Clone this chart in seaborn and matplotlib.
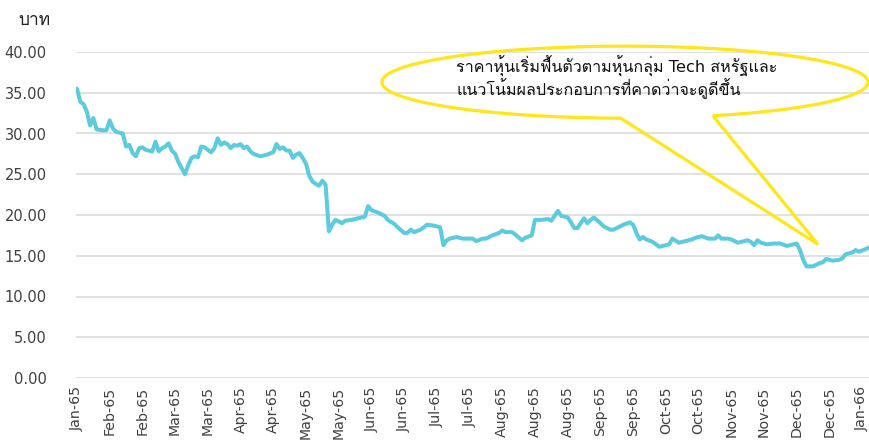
import numpy as np
import matplotlib
matplotlib.use("Agg")
import matplotlib.pyplot as plt
from matplotlib import font_manager
from matplotlib.path import Path
from matplotlib.patches import PathPatch
import seaborn as sns
from fontTools.ttLib import TTFont

# trading day index (0 = first trading day of Jan-65) and closing price in baht
trade_day = [
    0, 1, 2, 3, 4, 5, 6, 8, 9, 10, 11, 12, 14, 15, 16, 17, 18, 19, 20, 21,
    23, 24, 25, 26, 27, 28, 29, 30, 31, 33, 34, 35, 36, 37, 38, 39, 40, 41,
    42, 43, 44, 45, 46, 47, 48, 49, 50, 51, 52, 53, 54, 56, 58, 60, 61, 62,
    63, 64, 65, 66, 67, 68, 69, 70, 71, 72, 73, 74, 75, 76, 77, 78, 79, 81,
    82, 84, 86, 87, 88, 89, 90, 92, 93, 94, 95, 97, 98, 100, 101, 102, 103,
    105, 107, 109, 110, 111, 112, 113, 114, 116, 118, 120, 121, 122, 124,
    125, 127, 129, 130, 131, 133, 134, 136, 137, 139, 140, 142, 144, 145,
    147, 148, 150, 151, 152, 153, 154, 155, 156, 157, 158, 160, 161, 163,
    164, 166, 167, 169, 170, 171, 172, 173, 174, 176, 178, 179, 181, 182,
    184, 186, 188, 189, 191, 193, 195, 196, 197, 199, 200, 202, 203, 205,
    206, 207, 208, 209, 211, 213, 215, 217, 218, 220, 221, 222, 223, 225,
    226, 227, 228, 229, 231, 233, 234, 235, 237, 238, 239, 241, 242,
]
price = [
    35.5, 33.9, 33.6, 32.7, 31.0, 31.9, 30.5, 30.4, 30.4, 31.6, 30.6, 30.2,
    30.0, 28.4, 28.6, 27.6, 27.2, 28.2, 28.3, 28.0, 27.8, 29.0, 27.8, 28.2,
    28.4, 28.8, 27.9, 27.5, 26.5, 25.0, 26.1, 27.0, 27.2, 27.1, 28.4, 28.3,
    28.0, 27.7, 28.2, 29.4, 28.6, 28.9, 28.7, 28.2, 28.6, 28.5, 28.7, 28.2,
    28.4, 27.8, 27.5, 27.2, 27.4, 27.7, 28.7, 28.1, 28.3, 27.9, 27.9, 27.0,
    27.4, 27.6, 27.0, 26.3, 24.8, 24.1, 23.8, 23.6, 24.2, 23.7, 18.0, 18.8,
    19.4, 19.0, 19.3, 19.4, 19.6, 19.7, 19.8, 21.1, 20.6, 20.3, 20.1, 19.9,
    19.4, 18.9, 18.5, 17.8, 17.8, 18.2, 17.9, 18.2, 18.8, 18.7, 18.6, 18.5,
    16.3, 16.9, 17.1, 17.3, 17.1, 17.1, 17.1, 16.8, 17.1, 17.1, 17.5, 17.8,
    18.1, 17.9, 17.9, 17.6, 16.9, 17.2, 17.5, 19.4, 19.4, 19.5, 19.3, 20.5,
    19.9, 19.7, 19.1, 18.4, 18.4, 19.0, 19.6, 19.0, 19.4, 19.7, 19.0, 18.6,
    18.2, 18.2, 18.6, 18.8, 19.1, 18.8, 17.8, 17.0, 17.3, 17.0, 16.7, 16.1,
    16.2, 16.4, 17.1, 16.6, 16.8, 17.0, 17.2, 17.4, 17.1, 17.1, 17.5, 17.1,
    17.1, 17.0, 16.6, 16.7, 16.9, 16.7, 16.3, 16.9, 16.6, 16.4, 16.5, 16.5,
    16.2, 16.3, 16.5, 15.7, 14.5, 13.7, 13.7, 13.9, 14.1, 14.2, 14.6, 14.4,
    14.5, 14.7, 15.2, 15.4, 15.7, 15.5, 15.8, 16.0,
]

tick_labels = [
    "Jan-65", "Feb-65", "Feb-65", "Mar-65", "Mar-65", "Apr-65", "Apr-65",
    "May-65", "May-65", "Jun-65", "Jun-65", "Jul-65", "Jul-65", "Aug-65",
    "Aug-65", "Aug-65", "Sep-65", "Sep-65", "Oct-65", "Oct-65", "Nov-65",
    "Nov-65", "Dec-65", "Dec-65", "Jan-66",
]
y_ticks = [0, 5, 10, 15, 20, 25, 30, 35, 40]

note_lines = ["ราคาหุ้นเริ่มฟื้นตัวตามหุ้นกลุ่ม Tech สหรัฐและ",
              "แนวโน้มผลประกอบการที่คาดว่าจะดูดีขึ้น"]


def thai_font():
    # first installed family that actually has Thai glyphs
    for f in font_manager.fontManager.ttflist:
        try:
            cmap = TTFont(f.fname, fontNumber=0, lazy=True).getBestCmap()
        except Exception:
            continue
        if cmap and ord("ก") in cmap and "Mono" not in f.name:
            return f.name
    return "DejaVu Sans"


sns.set_theme(style="white")
thai = thai_font()
plt.rcParams["font.family"] = ["DejaVu Sans", thai]

text_col = "#404040"
line_col = "#5BCBDD"
yellow = "#FFE51A"

fig = plt.figure(figsize=(8.69, 4.40), dpi=100)
ax = fig.add_axes([76 / 869, 62 / 440, 793 / 869, 326 / 440])

sns.lineplot(x=trade_day, y=price, ax=ax, color=line_col, linewidth=2.9,
             solid_joinstyle="round", zorder=3)

ax.set_xlim(-0.3, 242.1)
ax.set_ylim(0, 40)
ax.set_yticks(y_ticks)
ax.set_yticklabels([f"{v:.2f}" for v in y_ticks], fontsize=10.5, color=text_col)
ax.set_xticks(np.arange(len(tick_labels)) * 10)
ax.set_xticklabels(tick_labels, rotation=90, fontsize=10.2, color=text_col,
                   va="top", ha="center")
ax.tick_params(axis="y", length=0, pad=21)
ax.tick_params(axis="x", length=0, pad=6)
ax.yaxis.grid(True, color="#D9D9D9", linewidth=1.1)
ax.set_axisbelow(True)
ax.set_xlabel("")
ax.set_ylabel("")
sns.despine(ax=ax, left=True, bottom=True)

fig.text(18 / 869, 1 - 25 / 440, "บาท", fontsize=12.5, color="#222222",
         va="baseline", family=[thai, "DejaVu Sans"])

# oval callout pointing at the December low
cx, cy, a, b = 167.5, 36.3, 74.3, 4.42
t = np.radians(np.linspace(-68.8, 269.0, 200))
verts = list(zip(cx + a * np.cos(t), cy + b * np.sin(t)))
verts += [(226.5, 16.4), verts[0]]
codes = [Path.MOVETO] + [Path.LINETO] * (len(verts) - 1)
ax.add_patch(PathPatch(Path(verts, codes), facecolor="none", edgecolor=yellow,
                       linewidth=2.3, clip_on=False, zorder=4,
                       joinstyle="miter"))
for line, y in zip(note_lines, [37.45, 34.75]):
    ax.text(115.9, y, line, fontsize=11.6, color="#111111", va="baseline",
            ha="left", family=["DejaVu Sans", thai], zorder=5)

fig.savefig("out.png", dpi=100)
